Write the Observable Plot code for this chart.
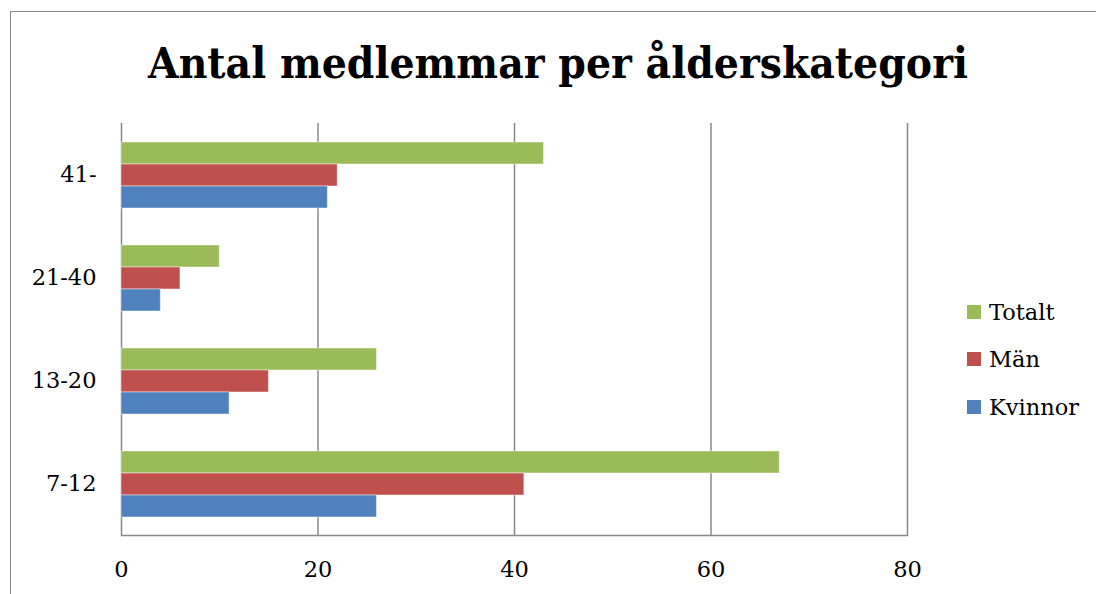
<!DOCTYPE html>
<html>
<head>
<meta charset="utf-8">
<script src="https://cdn.jsdelivr.net/npm/d3@7"></script>
<script src="https://cdn.jsdelivr.net/npm/@observablehq/plot@0.6"></script>
<style>
  html, body { margin: 0; padding: 0; background: #fff; overflow: hidden; }
  #wrap { position: relative; width: 1096px; height: 594px; overflow: hidden; }
  #border { position: absolute; left: 10px; top: 11px; width: 1100px; height: 600px;
            border: 1.5px solid #888; box-sizing: border-box; }
  #title { position: absolute; left: 0; top: 0; }
  #chart { position: absolute; left: 0; top: 122px; }
  #legend { position: absolute; left: 967px; top: 0; font-family: "DejaVu Serif", serif;
            font-size: 22.5px; color: #000; }
  .item { position: absolute; left: 0; white-space: nowrap; height: 28px; line-height: 28px; }
  .sw { display: inline-block; width: 14px; height: 14px; vertical-align: middle;
        margin-right: 8px; position: relative; top: -2px; }
</style>
</head>
<body>
<div id="wrap">
  <div id="border"></div>
  <svg id="title" width="1096" height="122">
    <text x="558" y="78" text-anchor="middle" font-family="DejaVu Serif" font-weight="bold"
          font-size="43" textLength="820" lengthAdjust="spacingAndGlyphs">Antal medlemmar per ålderskategori</text>
  </svg>
  <div id="chart"></div>
  <div id="legend"></div>
</div>
<script>
// Data
const categories = ["7-12", "13-20", "21-40", "41-"];
const series = ["Totalt", "Män", "Kvinnor"];
const totalt = [67, 26, 10, 43];
const man = [41, 15, 6, 22];
const kvinnor = [26, 11, 4, 21];
const xTicks = [0, 20, 40, 60, 80];
const colors = ["#9BBB59", "#C0504D", "#4F81BD"];

const valuesBySeries = [totalt, man, kvinnor];
const rows = [];
categories.forEach((c, i) => {
  series.forEach((s, j) => rows.push({category: c, series: s, value: valuesBySeries[j][i]}));
});

const font = "DejaVu Serif";
const marks = [
  Plot.ruleX(xTicks, {x: d => d, stroke: "#888", strokeWidth: 1.5, strokeOpacity: 1}),
  Plot.barX(rows, {x: "value", y: "series", fy: "category", fill: "series",
                   stroke: "#fff", strokeOpacity: 0.45, strokeWidth: 1}),
  Plot.axisFy({anchor: "left", tickSize: 0, tickPadding: 25, fontSize: 22.5, label: null}),
  Plot.axisX(xTicks, {tickSize: 0, tickPadding: 26, fontSize: 22.5, label: null})
];
let bottomLine;
try {
  bottomLine = Plot.frame({anchor: "bottom", fy: [categories[0]], stroke: "#888", strokeWidth: 1.5, strokeOpacity: 1});
} catch (e) { bottomLine = null; }

function build(withLine) {
  return Plot.plot({
    width: 1096,
    height: 472,
    marginTop: 0,
    marginBottom: 58,
    marginLeft: 121,
    marginRight: 189,
    style: {fontFamily: font, fontSize: "22.5px", color: "#000", background: "transparent"},
    x: {domain: [0, 80], label: null, axis: null},
    y: {domain: series, paddingInner: 0, paddingOuter: 0.75, axis: null},
    fy: {domain: categories.slice().reverse(), padding: 0, label: null, axis: null},
    color: {domain: series, range: colors},
    marks: withLine && bottomLine ? [marks[0], bottomLine, ...marks.slice(1)] : marks
  });
}
let chart;
try { chart = build(true); } catch (e) { console.warn(e); chart = build(false); }
document.getElementById("chart").appendChild(chart);

// Legend (vertical, right side)
const legend = document.getElementById("legend");
const centers = [312, 359, 406.5];
series.forEach((s, i) => {
  const div = document.createElement("div");
  div.className = "item";
  div.style.top = (centers[i] - 14) + "px";
  const sw = document.createElement("span");
  sw.className = "sw";
  sw.style.background = colors[i];
  div.appendChild(sw);
  div.appendChild(document.createTextNode(s));
  legend.appendChild(div);
});
</script>
</body>
</html>
